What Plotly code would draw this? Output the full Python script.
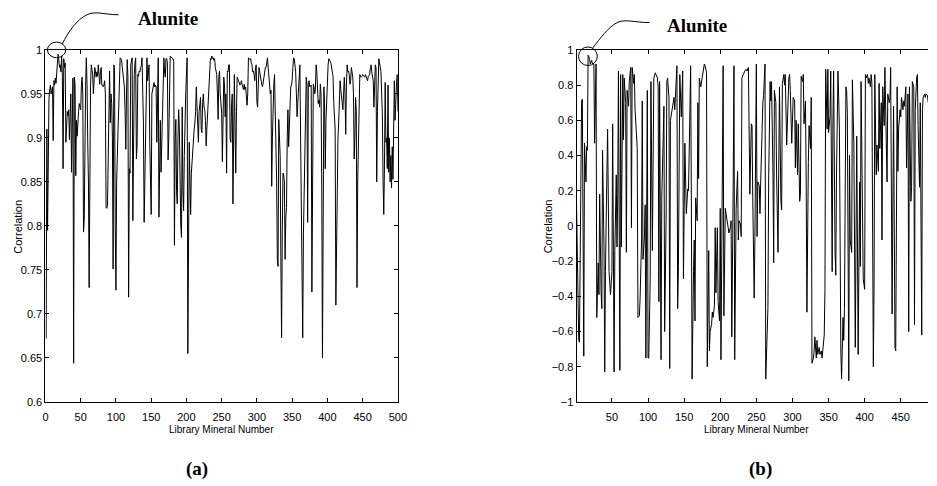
import plotly.graph_objects as go

W, H = 937, 486

# ---- (a) correlation of every library mineral, minerals 1..500 ----
lib_a = list(range(1, 501))
corr_a = [
    0.672, 0.91, 0.795, 0.91, 0.945, 0.955, 0.96, 0.95, 0.955, 0.958,
    0.897, 0.965, 0.96, 0.968, 0.962, 0.97, 0.985, 0.995, 0.99, 0.98,
    0.983, 0.975, 0.993, 0.97, 0.865, 0.99, 0.98, 0.985, 0.895, 0.92,
    0.93, 0.925, 0.932, 0.898, 0.93, 0.95, 0.861, 0.965, 0.968, 0.644,
    0.969, 0.96, 0.857, 0.92, 0.902, 0.93, 0.93, 0.939, 0.935, 0.932,
    0.96, 0.969, 0.95, 0.793, 0.806, 0.921, 0.96, 0.991, 0.96, 0.895,
    0.85, 0.73, 0.917, 0.96, 0.983, 0.975, 0.972, 0.95, 0.97, 0.98,
    0.975, 0.969, 0.975, 0.97, 0.983, 0.97, 0.961, 0.975, 0.98, 0.96,
    0.96, 0.958, 0.96, 0.965, 0.95, 0.821, 0.82, 0.823, 0.90, 0.97,
    0.976, 0.917, 0.95, 0.939, 0.90, 0.751, 0.983, 0.98, 0.80, 0.727,
    0.85, 0.895, 0.91, 0.935, 0.97, 0.991, 0.99, 0.989, 0.98, 0.969,
    0.96, 0.958, 0.93, 0.887, 0.95, 0.989, 0.97, 0.719, 0.865, 0.86,
    0.983, 0.99, 0.991, 0.806, 0.95, 0.972, 0.985, 0.991, 0.876, 0.89,
    0.972, 0.97, 0.976, 0.975, 0.98, 0.982, 0.991, 0.94, 0.917, 0.804,
    0.86, 0.861, 0.97, 0.991, 0.965, 0.975, 0.983, 0.895, 0.85, 0.813,
    0.95, 0.954, 0.96, 0.963, 0.958, 0.96, 0.958, 0.895, 0.94, 0.991,
    0.81, 0.90, 0.92, 0.861, 0.90, 0.935, 0.95, 0.991, 0.975, 0.969,
    0.99, 0.99, 0.985, 0.875, 0.90, 0.969, 0.993, 0.992, 0.991, 0.99,
    0.99, 0.987, 0.778, 0.90, 0.921, 0.84, 0.825, 0.90, 0.932, 0.91,
    0.821, 0.80, 0.787, 0.935, 0.84, 0.817, 0.88, 0.932, 0.95, 0.97,
    0.991, 0.655, 0.84, 0.895, 0.85, 0.813, 0.86, 0.876, 0.89, 0.906,
    0.91, 0.917, 0.93, 0.958, 0.94, 0.91, 0.895, 0.93, 0.945, 0.946,
    0.91, 0.906, 0.94, 0.95, 0.935, 0.932, 0.92, 0.891, 0.91, 0.928,
    0.95, 0.972, 0.975, 0.99, 0.989, 0.993, 0.99, 0.991, 0.988, 0.99,
    0.98, 0.975, 0.972, 0.95, 0.921, 0.97, 0.976, 0.95, 0.932, 0.928,
    0.873, 0.95, 0.969, 0.96, 0.924, 0.95, 0.86, 0.976, 0.975, 0.983,
    0.983, 0.90, 0.895, 0.935, 0.95, 0.825, 0.95, 0.972, 0.91, 0.86,
    0.93, 0.969, 0.967, 0.965, 0.963, 0.96, 0.962, 0.965, 0.961, 0.958,
    0.955, 0.961, 0.955, 0.958, 0.95, 0.937, 0.95, 0.991, 0.99, 0.989,
    0.99, 0.985, 0.983, 0.975, 0.976, 0.972, 0.965, 0.98, 0.983, 0.94,
    0.935, 0.96, 0.98, 0.975, 0.969, 0.963, 0.96, 0.958, 0.965, 0.965,
    0.976, 0.98, 0.98, 0.985, 0.991, 0.98, 0.969, 0.95, 0.95, 0.954,
    0.845, 0.90, 0.95, 0.96, 0.972, 0.93, 0.895, 0.85, 0.762, 0.754,
    0.921, 0.90, 0.88, 0.76, 0.673, 0.793, 0.86, 0.858, 0.85, 0.762,
    0.81, 0.821, 0.90, 0.932, 0.89, 0.92, 0.95, 0.958, 0.96, 0.965,
    0.98, 0.991, 0.99, 0.983, 0.975, 0.95, 0.924, 0.94, 0.958, 0.975,
    0.983, 0.90, 0.843, 0.75, 0.673, 0.791, 0.85, 0.898, 0.94, 0.969,
    0.96, 0.804, 0.963, 0.965, 0.958, 0.96, 0.96, 0.725, 0.90, 0.961,
    0.958, 0.95, 0.955, 0.983, 0.975, 0.943, 0.939, 0.943, 0.935, 0.961,
    0.95, 0.85, 0.65, 0.80, 0.958, 0.94, 0.865, 0.92, 0.946, 0.965,
    0.983, 0.99, 0.989, 0.987, 0.985, 0.98, 0.972, 0.97, 0.94, 0.92,
    0.91, 0.71, 0.80, 0.832, 0.90, 0.917, 0.95, 0.965, 0.955, 0.943,
    0.94, 0.932, 0.95, 0.969, 0.95, 0.904, 0.96, 0.983, 0.975, 0.976,
    0.972, 0.961, 0.965, 0.98, 0.975, 0.969, 0.95, 0.876, 0.90, 0.946,
    0.93, 0.73, 0.85, 0.895, 0.95, 0.972, 0.97, 0.969, 0.97, 0.972,
    0.971, 0.97, 0.969, 0.972, 0.969, 0.968, 0.965, 0.97, 0.972, 0.972,
    0.98, 0.983, 0.975, 0.969, 0.965, 0.935, 0.96, 0.983, 0.98, 0.85,
    0.93, 0.965, 0.99, 0.985, 0.98, 0.975, 0.95, 0.926, 0.85, 0.813,
    0.87, 0.963, 0.895, 0.90, 0.865, 0.96, 0.861, 0.90, 0.85, 0.88,
    0.843, 0.89, 0.853, 0.93, 0.965, 0.92, 0.95, 0.96, 0.972, 0.93,
]

# ---- (b) correlation read at the listed library minerals ----
lib_b = [
    1, 2, 3, 4, 5, 6, 7, 8, 9, 10,
    11, 12, 13, 14, 15, 16, 17, 19, 20, 22,
    23, 25, 26, 28, 29, 31, 32, 33, 35, 36,
    37, 39, 40, 41, 43, 44, 46, 47, 48, 50,
    51, 53, 54, 56, 57, 58, 59, 61, 62, 63,
    65, 66, 67, 69, 70, 71, 73, 74, 76, 77,
    78, 80, 81, 82, 84, 85, 86, 88, 89, 91,
    92, 93, 95, 96, 97, 99, 100, 101, 103, 104,
    106, 107, 108, 110, 111, 113, 114, 115, 116, 118,
    119, 121, 122, 123, 125, 126, 127, 129, 130, 131,
    133, 134, 136, 137, 138, 140, 141, 142, 144, 145,
    146, 148, 149, 151, 152, 153, 155, 156, 157, 159,
    160, 161, 163, 164, 165, 166, 168, 169, 170, 171,
    173, 174, 175, 177, 178, 179, 181, 182, 184, 185,
    186, 188, 189, 190, 192, 193, 194, 196, 197, 199,
    200, 201, 203, 204, 205, 207, 208, 209, 211, 212,
    214, 215, 216, 218, 219, 220, 222, 224, 225, 226,
    228, 229, 230, 232, 233, 234, 236, 237, 239, 240,
    241, 243, 244, 245, 247, 248, 250, 251, 252, 254,
    255, 256, 258, 259, 260, 262, 263, 265, 266, 267,
    269, 270, 271, 273, 274, 275, 277, 278, 280, 281,
    282, 284, 285, 286, 288, 289, 290, 292, 293, 295,
    296, 297, 299, 300, 301, 303, 304, 305, 307, 308,
    310, 311, 312, 314, 315, 316, 318, 319, 320, 322,
    323, 325, 326, 327, 329, 330, 331, 333, 334, 335,
    337, 338, 340, 341, 342, 344, 345, 346, 348, 349,
    350, 352, 353, 355, 356, 357, 359, 360, 361, 363,
    364, 365, 367, 368, 370, 371, 372, 374, 375, 376,
    378, 379, 380, 382, 383, 385, 386, 387, 389, 390,
    391, 393, 394, 395, 397, 398, 400, 401, 402, 404,
    405, 406, 408, 409, 410, 412, 413, 414, 416, 417,
    419, 420, 421, 423, 424, 425, 427, 428, 430, 431,
    432, 434, 435, 436, 438, 439, 440, 442, 443, 445,
    446, 447, 449, 450, 451, 453, 454, 455, 457, 458,
    460, 461, 462, 464, 465, 466, 468, 469, 470, 472,
    473, 474, 476, 477, 479, 480, 481, 483, 484, 485,
    487, 488,
]
corr_b = [
    0.12, -0.15, -0.16, -0.65, -0.66, -0.15, 0.10, 0.71, 0.72, -0.73,
    -0.74, 0.47, 0.30, 0.25, 0.45, 0.43, 0.97, 0.95, 0.92, 0.94,
    0.92, 0.92, 0.47, 0.92, -0.52, -0.21, -0.39, 0.18, -0.38, -0.47,
    0.43, -0.12, -0.83, -0.26, 0.29, 0.55, -0.26, -0.34, -0.39, -0.26,
    0.58, -0.83, -0.14, 0.29, -0.12, 0.18, 0.88, -0.82, 0.86, -0.12,
    0.86, 0.49, 0.84, 0.70, -0.15, 0.77, 0.68, 0.82, 0.90, -0.01,
    0.90, 0.81, 0.86, 0.66, 0.55, 0.44, -0.52, -0.51, -0.41, -0.08,
    0.71, -0.19, -0.06, 0.12, -0.75, 0.77, -0.75, -0.75, -0.30, 0.82,
    -0.14, 0.33, 0.84, 0.87, 0.86, 0.84, 0.79, -0.43, 0.82, -0.76,
    0.16, 0.64, 0.68, -0.60, 0.03, 0.82, 0.84, 0.73, -0.81, 0.60,
    0.66, 0.70, 0.73, 0.66, 0.73, 0.91, -0.47, -0.26, 0.86, 0.73,
    0.62, 0.88, -0.30, 0.47, 0.23, 0.07, 0.21, 0.20, 0.42, 0.91,
    0.14, -0.87, -0.26, -0.08, -0.54, 0.16, 0.03, 0.70, 0.27, 0.84,
    0.79, 0.82, 0.84, 0.90, 0.92, 0.91, 0.87, -0.80, -0.14, -0.71,
    -0.60, -0.56, -0.49, -0.52, -0.45, -0.01, -0.38, -0.01, -0.43, -0.54,
    0.10, -0.76, 0.47, 0.91, -0.51, 0.10, 0.07, 0.03, -0.01, -0.04,
    -0.01, 0.03, -0.63, 0.27, 0.91, -0.76, 0.10, 0.31, -0.08, 0.03,
    0.01, -0.06, 0.84, 0.86, 0.88, 0.88, 0.89, 0.88, 0.90, 0.58,
    0.18, 0.58, 0.57, 0.16, -0.41, -0.06, 0.92, -0.06, 0.25, 0.23,
    0.07, 0.25, 0.68, 0.70, 0.74, 0.92, -0.87, -0.67, -0.47, 0.25,
    0.82, 0.71, 0.82, 0.29, -0.21, 0.77, 0.70, 0.29, -0.15, 0.33,
    0.79, 0.14, 0.09, 0.81, 0.86, 0.80, 0.86, 0.46, 0.60, 0.84,
    0.86, 0.77, 0.47, 0.60, 0.73, 0.71, 0.33, 0.60, 0.29, 0.58,
    0.14, 0.18, 0.85, 0.82, 0.86, 0.58, 0.71, 0.25, -0.49, 0.36,
    0.57, 0.44, 0.73, -0.78, -0.75, -0.71, -0.63, -0.75, -0.65, -0.73,
    -0.69, -0.73, -0.71, -0.75, -0.69, -0.62, -0.36, 0.89, 0.55, 0.89,
    0.53, 0.62, 0.88, -0.26, 0.58, 0.88, -0.15, -0.28, 0.29, 0.88,
    0.73, 0.55, -0.71, -0.87, -0.52, -0.65, -0.47, 0.79, 0.77, 0.64,
    -0.88, 0.40, -0.08, -0.15, 0.83, 0.47, -0.26, -0.69, 0.51, 0.10,
    -0.73, 0.25, -0.23, 0.82, 0.18, -0.30, -0.36, 0.86, 0.84, 0.86,
    0.81, 0.84, 0.79, 0.86, 0.81, -0.80, -0.34, 0.86, 0.29, 0.46,
    0.31, 0.81, 0.44, 0.70, -0.08, 0.79, 0.57, 0.90, 0.55, 0.25,
    0.75, 0.70, 0.73, 0.90, -0.50, 0.36, 0.68, -0.69, -0.71, 0.79,
    0.31, 0.55, 0.66, 0.62, 0.73, 0.66, 0.71, 0.68, 0.79, 0.33,
    0.75, -0.60, 0.79, 0.14, 0.22, 0.82, 0.79, -0.56, 0.66, 0.84,
    0.86, 0.57, 0.22, 0.70, -0.62, 0.66, 0.73, 0.75, 0.73, 0.75,
    0.74, 0.70,
]

# ---- axis ticks ----
xticks_a = list(range(0, 501, 50))
yticks_a = [0.6, 0.65, 0.7, 0.75, 0.8, 0.85, 0.9, 0.95, 1.0]
ylabels_a = ["0.6", "0.65", "0.7", "0.75", "0.8", "0.85", "0.9", "0.95", "1"]
xticks_b = list(range(50, 451, 50))
yticks_b = [-1, -0.8, -0.6, -0.4, -0.2, 0, 0.2, 0.4, 0.6, 0.8, 1]
ylabels_b = ["\u22121", "\u22120.8", "\u22120.6", "\u22120.4", "\u22120.2", "0",
             "0.2", "0.4", "0.6", "0.8", "1"]


def px(x):
    return x / W


def py(y):
    return 1 - y / H


SANS = "Liberation Sans, Arial, sans-serif"
SERIF = "Liberation Serif, Times New Roman, serif"

fig = go.Figure()
fig.add_trace(go.Scatter(x=lib_a, y=corr_a, mode="lines",
                         line=dict(color="#000", width=1),
                         xaxis="x", yaxis="y", showlegend=False))
fig.add_trace(go.Scatter(x=lib_b, y=corr_b, mode="lines",
                         line=dict(color="#000", width=1),
                         xaxis="x2", yaxis="y2", showlegend=False))

axis_common = dict(showline=True, linecolor="#000", linewidth=1,
                   ticks="inside", ticklen=4, tickcolor="#000", tickwidth=1,
                   showgrid=False, zeroline=False,
                   tickfont=dict(family=SANS, size=11, color="#000"))

ydom = [py(406), py(45)]
fig.update_layout(
    width=W, height=H,
    margin=dict(l=0, r=0, t=0, b=0),
    paper_bgcolor="white", plot_bgcolor="white",
    xaxis=dict(domain=[px(43), px(400)], range=[0, 500],
               tickvals=xticks_a, mirror="ticks", anchor="y",
               ticklabelstandoff=5, **axis_common),
    yaxis=dict(domain=ydom, range=[0.6, 1.0], tickvals=yticks_a,
               ticktext=ylabels_a, mirror="ticks", anchor="x", **axis_common),
    xaxis2=dict(domain=[px(581), 1.0], range=[1, 487.7],
                tickvals=xticks_b, mirror="ticks", anchor="y2",
                ticklabelstandoff=5, **axis_common),
    yaxis2=dict(domain=ydom, range=[-1, 1], tickvals=yticks_b,
                ticktext=ylabels_b, mirror=False, anchor="x2", **axis_common),
)


def label(text, x, y, size, family, angle=0):
    fig.add_annotation(text=text, x=px(x), y=py(y), xref="paper", yref="paper",
                       showarrow=False, textangle=angle,
                       xanchor="center", yanchor="middle",
                       font=dict(family=family, size=size, color="#000"))


# axis titles
label("Correlation", 15.5, 226, 11, SANS, -90)
label("Correlation", 552, 226, 11, SANS, -90)
label("Library Mineral Number", 221.5, 434, 10, SANS)
label("Library Mineral Number", 763.7, 434, 10, SANS)

# panel captions
label("<b>(a)</b>", 196.5, 475, 19, SERIF)
label("<b>(b)</b>", 767.5, 475, 19, SERIF)

# Alunite call-outs
label("<b>Alunite</b>", 166.7, 12.5, 19, SERIF)
label("<b>Alunite</b>", 703.3, 20, 19, SERIF)


def path(points):
    cmd = []
    for c, pts in points:
        cmd.append(c + " " + ", ".join(f"{px(a):.5f} {py(b):.5f}" for a, b in pts))
    return " ".join(cmd)


for (cx0, cx1, cy0, cy1), curve in [
    ((45, 63.5, 37, 53),
     [("M", [(60, 39)]), ("C", [(66, 27), (74, 14), (86, 8.5)]),
      ("C", [(94, 5), (104, 9), (117, 9)])]),
    ((583, 602, 42, 61),
     [("M", [(597.5, 43)]), ("C", [(605, 33), (613, 22), (622, 17)]),
      ("C", [(630, 13), (640, 17), (655, 17)])]),
]:
    fig.add_shape(type="circle", xref="paper", yref="paper",
                  x0=px(cx0), x1=px(cx1), y0=py(cy1), y1=py(cy0),
                  line=dict(color="#000", width=1))
    fig.add_shape(type="path", xref="paper", yref="paper", path=path(curve),
                  line=dict(color="#000", width=1))

fig.write_html("out.html")
